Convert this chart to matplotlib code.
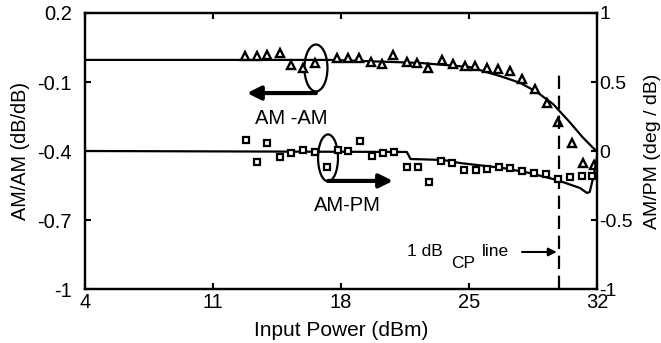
import numpy as np
import matplotlib
matplotlib.use('Agg')
import matplotlib.pyplot as plt
from matplotlib.patches import Ellipse

plt.rcParams['font.family'] = ['Liberation Sans', 'DejaVu Sans']
plt.rcParams['axes.unicode_minus'] = False

# AM-AM measured points (left axis, dB/dB)
amam_x = [12.75, 13.41, 13.95, 14.66, 15.27, 15.92, 16.58, 17.78, 18.38, 18.98,
          19.64, 20.24, 20.84, 21.61, 22.16, 22.76, 23.52, 24.12, 24.78, 25.33,
          25.98, 26.58, 27.24, 27.89, 28.61, 29.27, 29.87, 30.63, 31.24, 31.84]
amam_y = [0.013, 0.013, 0.017, 0.026, -0.026, -0.039, -0.017, 0.004, 0.004, 0.004,
          -0.013, -0.022, 0.017, -0.013, -0.017, -0.039, -0.004, -0.022, -0.030, -0.030,
          -0.039, -0.043, -0.052, -0.087, -0.130, -0.191, -0.274, -0.365, -0.452, -0.461]

# AM-AM simulated curve
amam_line_x = [4.0, 17.4, 22.3, 25.05, 26.85, 27.8, 28.7, 29.6, 30.5, 31.2, 32.0]
amam_line_y = [-0.004, -0.004, -0.017, -0.035, -0.078, -0.104, -0.143, -0.196, -0.274, -0.339, -0.404]

# AM-PM measured points (right axis, deg/dB)
ampm_x = [12.80, 13.41, 13.95, 14.66, 15.27, 15.92, 16.58, 17.23, 17.84, 18.38,
          19.04, 19.70, 20.30, 20.90, 21.61, 22.21, 22.81, 23.47, 24.07, 24.73,
          25.38, 25.98, 26.64, 27.24, 27.90, 28.55, 29.21, 29.87, 30.52, 31.18, 31.73]
ampm_y = [0.080, -0.080, 0.058, -0.043, -0.014, 0.007, -0.007, -0.116, 0.007, 0.0,
          0.072, -0.036, -0.014, -0.007, -0.116, -0.116, -0.225, -0.072, -0.087, -0.138,
          -0.138, -0.130, -0.116, -0.123, -0.145, -0.159, -0.167, -0.203, -0.188, -0.181, -0.181]

# AM-PM simulated curve
ampm_line_x = [4.0, 21.6, 21.8, 23.6, 24.5, 26.85, 28.3, 29.8, 31.07, 31.45, 31.6, 31.8, 32.0]
ampm_line_y = [0.0, -0.007, -0.058, -0.065, -0.087, -0.123, -0.159, -0.21, -0.268, -0.304, -0.297, -0.188, -0.043]

x_ticks = [4, 11, 18, 25, 32]
left_ticks = [-1, -0.7, -0.4, -0.1, 0.2]
right_ticks = [-1, -0.5, 0, 0.5, 1]
cp_x = 29.9

fs = 14.5
fig = plt.figure(figsize=(6.61, 3.43), dpi=100)
ax = fig.add_axes([0.1286, 0.1574, 0.7746, 0.8047])
ax2 = ax.twinx()

ax.plot(amam_line_x, amam_line_y, color='black', lw=1.6)
ax.plot(amam_x, amam_y, '^', ms=5.5, mfc='white', mec='black', mew=1.7)
ax2.plot(ampm_line_x, ampm_line_y, color='black', lw=1.6)
ax2.plot(ampm_x, ampm_y, 's', ms=4.2, mfc='white', mec='black', mew=1.6)

# 1 dB compression line
ax.plot([cp_x, cp_x], [-1, -0.048], color='black', lw=1.6, dashes=(6, 3))

ax.set_xlim(4, 32)
ax.set_ylim(-1, 0.2)
ax2.set_ylim(-1, 1)
ax.set_xticks(x_ticks)
ax.set_xticklabels([str(t) for t in x_ticks], fontsize=fs)
ax.set_yticks(left_ticks)
ax.set_yticklabels(['-1', '-0.7', '-0.4', '-0.1', '0.2'], fontsize=fs)
ax2.set_yticks(right_ticks)
ax2.set_yticklabels(['-1', '-0.5', '0', '0.5', '1'], fontsize=14)

ax.tick_params(axis='x', direction='in', length=4, width=1.5, top=True, pad=3)
ax.tick_params(axis='y', direction='in', length=4, width=1.5, pad=9.5)
ax2.tick_params(axis='y', direction='in', length=4, width=1.5, pad=1.5)
for a in (ax, ax2):
    for s in a.spines.values():
        s.set_linewidth(1.6)

ax.set_xlabel('Input Power (dBm)', fontsize=15, labelpad=6)
ax.set_ylabel('AM/AM (dB/dB)', fontsize=14.3, labelpad=5)
ax2.set_ylabel('AM/PM (deg / dB)', fontsize=14, labelpad=8)

# ellipses and arrows marking each curve's axis
ax.add_patch(Ellipse((16.63, -0.039), 1.26, 0.204, fill=False, lw=1.6, color='black'))
ax.add_patch(Ellipse((17.29, -0.430), 1.09, 0.204, fill=False, lw=1.6, color='black'))
ax.annotate('', xy=(12.86, -0.148), xytext=(16.63, -0.148),
            arrowprops=dict(arrowstyle='-|>', lw=3, color='black', mutation_scale=20,
                            shrinkA=0, shrinkB=0))
ax.annotate('', xy=(20.84, -0.530), xytext=(17.29, -0.530),
            arrowprops=dict(arrowstyle='-|>', lw=3, color='black', mutation_scale=20,
                            shrinkA=0, shrinkB=0))
ax.text(15.27, -0.257, 'AM -AM', fontsize=fs, ha='center', va='center')
ax.text(18.33, -0.639, 'AM-PM', fontsize=fs, ha='center', va='center')

ax.text(22.6, -0.835, '1 dB', fontsize=12.5, ha='center', va='center')
ax.text(24.67, -0.891, 'CP', fontsize=12.5, ha='center', va='center')
ax.text(26.42, -0.835, 'line', fontsize=12.5, ha='center', va='center')
ax.annotate('', xy=(29.8, -0.839), xytext=(27.9, -0.839),
            arrowprops=dict(arrowstyle='-|>', lw=1.5, color='black', mutation_scale=12,
                            shrinkA=0, shrinkB=0))

fig.savefig('out.png', dpi=100)
